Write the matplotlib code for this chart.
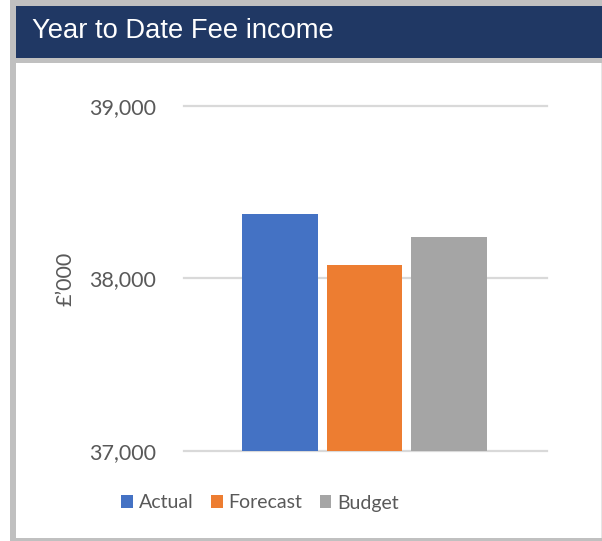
import matplotlib
matplotlib.use("Agg")
import matplotlib.pyplot as plt
from matplotlib.patches import Rectangle
import numpy as np

# Data
categories = ["Actual", "Forecast", "Budget"]
values = [38375, 38080, 38240]
colors = ["#4472C4", "#ED7D31", "#A5A5A5"]
yticks = [37000, 38000, 39000]
ytick_labels = ["37,000", "38,000", "39,000"]
title = "Year to Date Fee income"
ylabel = "£’000"

W, H = 602, 541
fig = plt.figure(figsize=(W / 100, H / 100), dpi=100)
fig.patch.set_facecolor("white")

def px_rect(x0, y0, x1, y1, color, z=0):
    fig.patches.append(Rectangle((x0 / W, 1 - y1 / H), (x1 - x0) / W, (y1 - y0) / H,
                                 transform=fig.transFigure, facecolor=color,
                                 edgecolor="none", zorder=z))

# frame
px_rect(10, 0, 602, 541, "#C0C0C0", 0)
px_rect(16, 6, 602, 58, "#203864", 1)
px_rect(16, 63, 601, 538, "white", 1)
px_rect(601, 63, 602, 538, "#E6E6E6", 1)

fig.text(32 / W, 1 - 38.5 / H, title, color="white", fontsize=19.7,
         family="Liberation Sans", ha="left", va="baseline", zorder=5)

ax = fig.add_axes([184 / W, 1 - 451 / H, (547 - 184) / W, (451 - 106) / H])
ax.set_facecolor("none")
ax.set_zorder(3)

width = 0.888
pos = np.arange(len(categories)) - 1
ax.bar(pos, np.array(values) - 37000, bottom=37000, width=width, color=colors,
       label=categories, zorder=3)

ax.set_xlim(-2.136, 2.160)
ax.set_ylim(37000, 39000)
ax.set_yticks(yticks)
ax.set_yticklabels(ytick_labels)
ax.set_xticks([])
for y in yticks:
    ax.axhline(y, color="#D9D9D9", lw=1.6, zorder=1, clip_on=False)
for s in ax.spines.values():
    s.set_visible(False)
ax.tick_params(axis="y", length=0, pad=20, labelsize=15.5, labelcolor="#595959")
for lab in ax.get_yticklabels():
    lab.set_family("Lato")

ax.set_ylabel(ylabel, fontsize=15.5, color="#595959", family="Lato")
ax.yaxis.set_label_coords((66 - 184) / 363, 0.5)
ax.yaxis.label.set_va("center")

handles = [Rectangle((0, 0), 1, 1, facecolor=c, edgecolor="none") for c in colors]
leg = fig.legend(handles, categories, loc="center", bbox_to_anchor=(260 / W, 1 - 503 / H),
                 ncol=3, frameon=False, prop={"family": "Lato", "size": 14},
                 handlelength=0.6, handleheight=0.6, handletextpad=0.3, columnspacing=0.9,
                 labelcolor="#595959")

fig.savefig("out.png", dpi=100, facecolor=fig.get_facecolor())
